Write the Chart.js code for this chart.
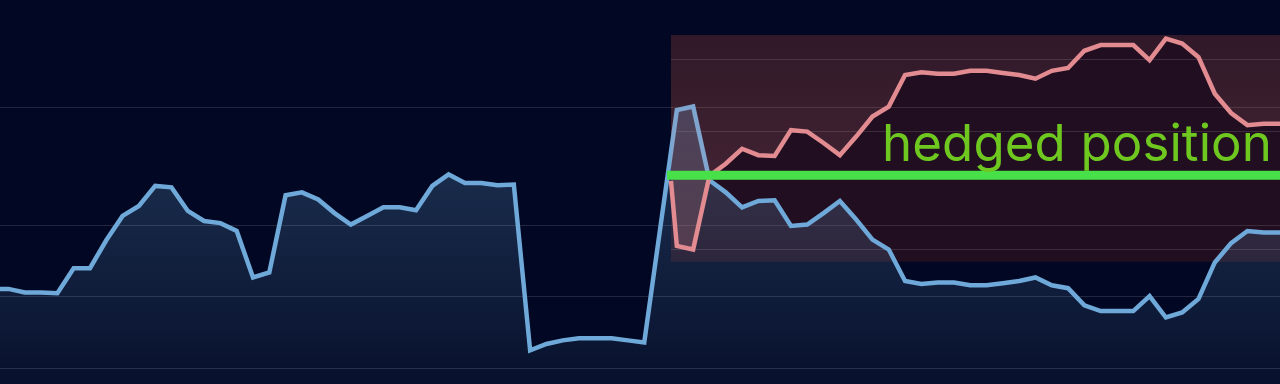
<!DOCTYPE html>
<html>
<head>
<meta charset="utf-8">
<script src="https://cdn.jsdelivr.net/npm/chart.js@4.4.1/dist/chart.umd.min.js"></script>
<style>
    html, body { margin: 0; padding: 0; background: #020823; }
    canvas { display: block; }
</style>
</head>
<body>
<canvas id="chart" width="1280" height="384"></canvas>
<script>
// Underlying price, one value per step. Step 0 sits just left of the frame.
const PRICE = [
    11.1, 11.1, 10.6, 10.6, 10.5, 14.0, 14.0, 17.9, 21.3, 22.7,
    25.5, 25.3, 22.0, 20.6, 20.3, 19.2, 12.7, 13.4, 24.2, 24.6,
    23.6, 21.7, 20.1, 21.3, 22.5, 22.5, 22.1, 25.5, 27.1, 25.9,
    25.9, 25.6, 25.7, 2.5, 3.4, 3.9, 4.2, 4.2, 4.2, 3.9,
    3.6, 19.9, 36.1, 36.6, 26.3, 24.6, 22.5, 23.4, 23.5, 19.9,
    20.1, 21.7, 23.4, 20.8, 18.0, 16.6, 12.2, 11.8, 12.0, 12.0,
    11.6, 11.6, 11.9, 12.2, 12.7, 11.6, 11.2, 8.8, 8.0, 8.0,
    8.0, 10.1, 7.1, 7.8, 9.7, 14.8, 17.5, 19.2, 19.0, 19.0,
];

// Horizontal grid lines
const GRID_VALUES = [0, 10, 20, 36.5];

// Hedge: where it starts, its level and the band that shows it
const HEDGE_LABEL = 'hedged position';
const HEDGE_LEVEL = 27.0;
const HEDGE_LINE_FROM = 41.4;
const HEDGE_BOX_FROM = 41.64;
const HEDGE_FIRST_STEP = 42;
const HEDGE_BOX_TOP = 46.6;
const HEDGE_BOX_BOTTOM = 14.9;
const MIRROR = 26.6; // the hedge leg is the price flipped around this value

const X_MIN = 0.48;
const X_MAX = 79;
const Y_MIN = -2.2;
const Y_MAX = 51.5;

const GRID_COLOR = 'rgba(255, 255, 255, 0.13)';

const pricePoints = PRICE.map((v, i) => ({ x: i, y: v }));
const hedgePoints = [{ x: HEDGE_BOX_FROM, y: HEDGE_LEVEL }].concat(
    PRICE.slice(HEDGE_FIRST_STEP).map((v, k) => ({ x: HEDGE_FIRST_STEP + k, y: v }))
);

const verticalGradient = (chart, rgb, fromAlpha, toAlpha) => {
    const { ctx, chartArea } = chart;
    if (!chartArea) {
        return null;
    }
    const g = ctx.createLinearGradient(0, chartArea.top, 0, chartArea.bottom);
    g.addColorStop(0, `rgba(${rgb}, ${fromAlpha})`);
    g.addColorStop(1, `rgba(${rgb}, ${toAlpha})`);
    return g;
};

// Reddish band behind the hedge leg, with the mirrored grid inside it
const hedgeBoxPlugin = {
    id: 'hedgeBox',
    beforeDatasetsDraw: (chart) => {
        const { ctx } = chart;
        const { x, y, y2 } = chart.scales;
        const left = x.getPixelForValue(HEDGE_BOX_FROM);
        const right = x.getPixelForValue(X_MAX);
        const top = y.getPixelForValue(HEDGE_BOX_TOP);
        const bottom = y.getPixelForValue(HEDGE_BOX_BOTTOM);

        ctx.save();
        ctx.fillStyle = 'rgba(225, 60, 15, 0.14)';
        ctx.fillRect(left, top, right - left, bottom - top);

        ctx.strokeStyle = GRID_COLOR;
        ctx.lineWidth = 1;
        GRID_VALUES.forEach((v) => {
            const py = Math.round(y2.getPixelForValue(v)) + 0.5;
            if (py <= top || py >= bottom) {
                return;
            }
            ctx.beginPath();
            ctx.moveTo(left, py);
            ctx.lineTo(right, py);
            ctx.stroke();
        });
        ctx.restore();
    },
};

const hedgeLabelPlugin = {
    id: 'hedgeLabel',
    afterDatasetsDraw: (chart) => {
        const { ctx, chartArea } = chart;
        const lineY = chart.scales.y.getPixelForValue(HEDGE_LEVEL);
        const width = 390;

        ctx.save();
        ctx.font = '400 51px Inter';
        ctx.letterSpacing = '0px';
        const natural = ctx.measureText(HEDGE_LABEL).width;
        ctx.letterSpacing = ((width - natural) / HEDGE_LABEL.length) + 'px';
        ctx.fillStyle = '#6fc820';
        ctx.textAlign = 'left';
        ctx.textBaseline = 'alphabetic';
        ctx.fillText(HEDGE_LABEL, chartArea.right - 8 - width, lineY - 14.5);
        ctx.restore();
    },
};

const config = {
    type: 'line',
    data: {
        datasets: [
            {
                // hedged position level
                data: [
                    { x: HEDGE_LINE_FROM, y: HEDGE_LEVEL },
                    { x: X_MAX, y: HEDGE_LEVEL },
                ],
                yAxisID: 'y',
                borderColor: '#48e048',
                borderWidth: 9,
                pointRadius: 0,
                fill: false,
                order: 0,
            },
            {
                // hedge leg, mirrored through the reversed y2 axis
                data: hedgePoints,
                yAxisID: 'y2',
                borderColor: '#e28c91',
                borderWidth: 4.5,
                pointRadius: 0,
                tension: 0,
                fill: { value: 2 * MIRROR - HEDGE_BOX_TOP },
                backgroundColor: (c) => verticalGradient(c.chart, '226, 140, 145', 0.06, 0.29),
                order: 1,
            },
            {
                // price
                data: pricePoints,
                yAxisID: 'y',
                borderColor: '#6fa9d9',
                borderWidth: 4.5,
                pointRadius: 0,
                tension: 0,
                fill: 'start',
                backgroundColor: (c) => verticalGradient(c.chart, '111, 169, 217', 0.36, 0.06),
                order: 2,
            },
        ],
    },
    options: {
        responsive: false,
        animation: false,
        devicePixelRatio: 1,
        layout: {
            padding: 0,
            autoPadding: false,
        },
        plugins: {
            legend: { display: false },
            tooltip: { enabled: false },
        },
        scales: {
            x: {
                type: 'linear',
                min: X_MIN,
                max: X_MAX,
                display: false,
            },
            y: {
                type: 'linear',
                min: Y_MIN,
                max: Y_MAX,
                afterBuildTicks: (axis) => {
                    axis.ticks = GRID_VALUES.map((v) => ({ value: v }));
                },
                ticks: { display: false },
                border: { display: false },
                grid: {
                    color: GRID_COLOR,
                    lineWidth: 1,
                    drawTicks: false,
                },
            },
            y2: {
                type: 'linear',
                reverse: true,
                min: 2 * MIRROR - Y_MAX,
                max: 2 * MIRROR - Y_MIN,
                display: false,
            },
        },
    },
    plugins: [hedgeBoxPlugin, hedgeLabelPlugin],
};

new Chart(document.getElementById('chart').getContext('2d'), config);
</script>
</body>
</html>
